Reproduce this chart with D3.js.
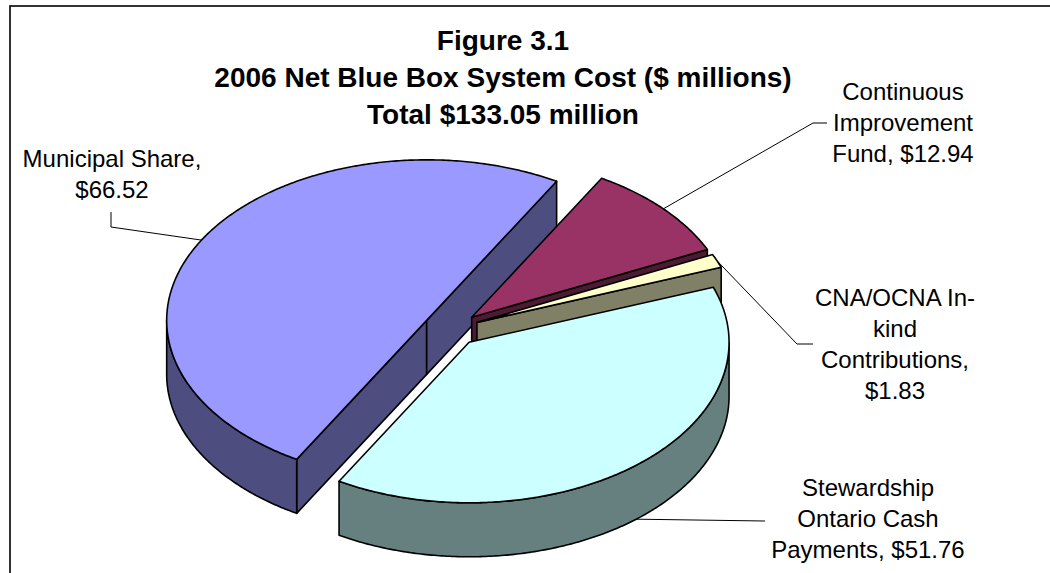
<!DOCTYPE html>
<html><head><meta charset="utf-8">
<script src="https://cdn.jsdelivr.net/npm/d3@7"></script>
<style>body{margin:0;background:#fff;} svg{display:block;}</style>
</head><body>
<script>
// ---- data ----
const categories = ["Municipal Share", "Continuous Improvement Fund", "CNA/OCNA In-kind Contributions", "Stewardship Ontario Cash Payments"];
const values = [66.52, 12.94, 1.83, 51.76];
const labelLines = [["Municipal Share,", "{v}"], ["Continuous", "Improvement", "Fund, {v}"], ["CNA/OCNA In-", "kind", "Contributions,", "{v}"], ["Stewardship", "Ontario Cash", "Payments, {v}"]];
const titleLines = ["Figure 3.1", "2006 Net Blue Box System Cost ($ millions)", "Total $133.05 million"];
const topColors = ["#9999FF", "#993366", "#FFFFCC", "#CCFFFF"];
const sideColors = ["#4D4D80", "#4D1A33", "#808066", "#668080"];

// ---- layout ----
const W = 1050, H = 573;
const cx = 451, cy = 329, rx = 260, ry = 160.5, depth = 54, explode = 0.108;
const labelPos = [
  {x: 112, y: 167, leader: [[111, 227], [111, 212]]},
  {x: 903, y: 100, leader: [[813, 123], [827, 123]]},
  {x: 895, y: 306, leader: [[797, 344], [813, 344]]},
  {x: 868, y: 496, leader: [[765, 521]]}
];
const lineH = 31;

const svg = d3.select("body").append("svg").attr("width", W).attr("height", H);

// frame
svg.append("rect").attr("x", 10).attr("y", 6).attr("width", W + 20).attr("height", H + 20)
  .attr("fill", "none").attr("stroke", "#000").attr("stroke-width", 1.6);

// title
const title = svg.append("text").attr("text-anchor", "middle")
  .attr("font-family", "'Liberation Sans', Arial, sans-serif").attr("font-weight", "bold")
  .attr("font-size", 28).attr("fill", "#000");
titleLines.forEach((t, i) => title.append("tspan").attr("x", 503).attr("y", 50 + i * 37).text(t));

// scales (unit circle -> ellipse)
const xs = d3.scaleLinear().domain([-1, 1]).range([cx - rx, cx + rx]);
const ys = d3.scaleLinear().domain([-1, 1]).range([cy - ry, cy + ry]);

const a0 = 210 * Math.PI / 180;
const pie = d3.pie().sort(null).value(d => d).startAngle(a0).endAngle(a0 + 2 * Math.PI);
const arcs = pie(values);

function pt(a, r, off, dz) {
  return [xs(r * Math.sin(a) + off[0]), ys(-r * Math.cos(a) + off[1]) + (dz || 0)];
}
function rim(a1, a2, off, dz) {
  const n = Math.max(2, Math.ceil(Math.abs(a2 - a1) / 0.01));
  return d3.range(n + 1).map(i => pt(a1 + (a2 - a1) * i / n, 1, off, dz));
}
const line = d3.line();
const g = svg.append("g").attr("stroke", "#000").attr("stroke-width", 1.6).attr("stroke-linejoin", "round");

arcs.forEach((d, i) => {
  const mid = (d.startAngle + d.endAngle) / 2;
  const off = [explode * Math.sin(mid), -explode * Math.cos(mid)];
  d.off = off; d.mid = mid;
  const apex = pt(0, 0, off), apexB = pt(0, 0, off, depth);
  // radial faces
  const faces = [];
  if (Math.sin(d.startAngle) < -1e-6) faces.push(d.startAngle);
  if (Math.sin(d.endAngle) > 1e-6) faces.push(d.endAngle);
  faces.forEach(a => {
    g.append("path").attr("fill", sideColors[i])
      .attr("d", line([apex, pt(a, 1, off), pt(a, 1, off, depth), apexB]) + "Z");
  });
  // outer side: visible where the rim faces the viewer (90..270 deg)
  for (let k = -1; k <= 2; k++) {
    const lo = Math.max(d.startAngle, Math.PI / 2 + 2 * Math.PI * k);
    const hi = Math.min(d.endAngle, 3 * Math.PI / 2 + 2 * Math.PI * k);
    if (hi - lo > 1e-4) {
      const pts = rim(lo, hi, off).concat(rim(hi, lo, off, depth));
      g.append("path").attr("fill", sideColors[i]).attr("d", line(pts) + "Z");
    }
  }
  // top
  g.append("path").attr("fill", topColors[i])
    .attr("d", line([apex].concat(rim(d.startAngle, d.endAngle, off))) + "Z");
});

// labels + leaders
const fmt = v => "$" + d3.format(".2f")(v);
arcs.forEach((d, i) => {
  const front = Math.cos(d.mid) < 0;
  const anchor = pt(d.mid, 1, d.off, front ? depth : 0);
  const p = labelPos[i];
  svg.append("path").attr("fill", "none").attr("stroke", "#000").attr("stroke-width", 1)
    .attr("d", line([anchor].concat(p.leader)));
  const t = svg.append("text").attr("text-anchor", "middle")
    .attr("font-family", "'Liberation Sans', Arial, sans-serif").attr("font-size", 24).attr("fill", "#000");
  labelLines[i].forEach((s, j) => t.append("tspan").attr("x", p.x).attr("y", p.y + j * lineH)
    .text(s.replace("{v}", fmt(values[i]))));
});
</script>
</body></html>
